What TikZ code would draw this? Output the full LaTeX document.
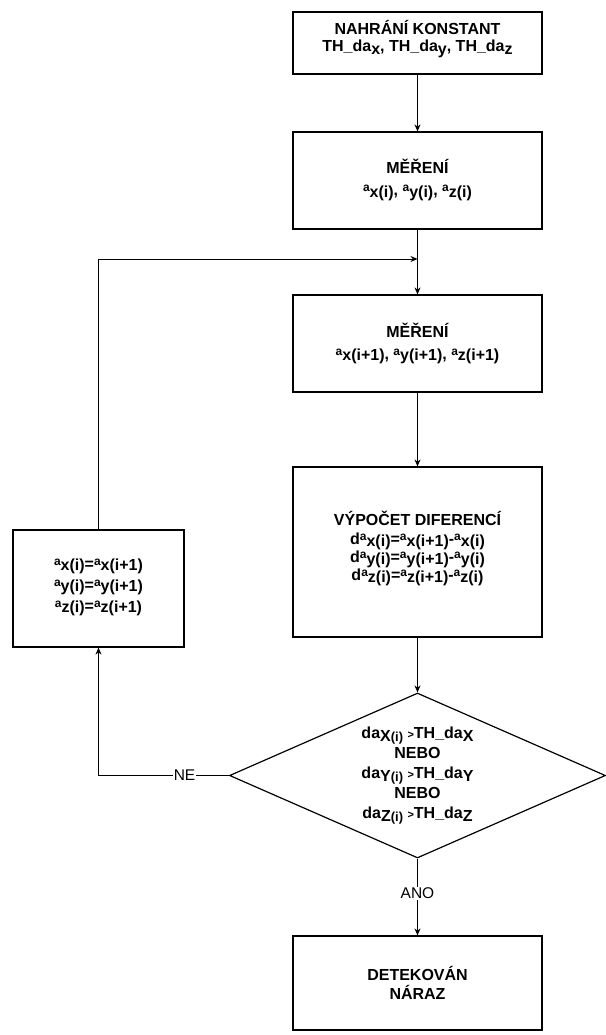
\documentclass[tikz,border=0pt]{standalone}
\usepackage{fontspec}
\setmainfont{Liberation Sans}
\usetikzlibrary{shapes.geometric,arrows.meta}
\newcommand\sa[2]{{\fontsize{12}{12}\selectfont\raisebox{4pt}{#1}}\raisebox{-1.5pt}{#2}}
\newcommand\dx[1]{da\raisebox{-2.5pt}{#1}}
\newcommand\ii{{\fontsize{13}{13}\selectfont(i)}}
\newcommand\gt{{\fontsize{11}{11}\selectfont>}}
\begin{document}
\begin{tikzpicture}[x=1pt,y=1pt,
  box/.style={draw=black,line width=1.2pt,minimum width=249pt,align=center,inner sep=0pt,font=\fontsize{16}{19}\selectfont\bfseries},
  arr/.style={-{Stealth[length=7pt,width=6pt]},line width=0.9pt},
  lbl/.style={fill=white,inner sep=1pt,font=\fontsize{15.5}{18}\selectfont}]
\useasboundingbox (0,0) rectangle (605,-1035);
\node[box,minimum height=62pt] (b1) at (417.5,-43) {NAHRÁNÍ KONSTANT\\[-2pt]TH\_da\raisebox{-2.5pt}{x}, TH\_da\raisebox{-2.5pt}{y}, TH\_da\raisebox{-2.5pt}{z}\\[-5pt]};
\node[box,minimum height=97pt] (b2) at (417.5,-180.5) {MĚŘENÍ\\[3pt]\sa{a}{x(i)}, \sa{a}{y(i)}, \sa{a}{z(i)}\\[-13pt]};
\node[box,minimum height=97pt] (b3) at (417.5,-343.5) {MĚŘENÍ\\[3pt]\sa{a}{x(i+1)}, \sa{a}{y(i+1)}, \sa{a}{z(i+1)}\\[-14pt]};
\node[box,minimum height=170pt] (b4) at (417.5,-552) {VÝPOČET DIFERENCÍ\\
d\sa{a}{x(i)}=\sa{a}{x(i+1)}-\sa{a}{x(i)}\\[-1pt]
d\sa{a}{y(i)}=\sa{a}{y(i+1)}-\sa{a}{y(i)}\\[-1pt]
d\sa{a}{z(i)}=\sa{a}{z(i+1)}-\sa{a}{z(i)}\\[-7pt]};
\node[box,minimum width=171pt,minimum height=117pt] (lb) at (98.5,-588.5) {\sa{a}{x(i)}=\sa{a}{x(i+1)}\\[2pt]\sa{a}{y(i)}=\sa{a}{y(i+1)}\\[2pt]\sa{a}{z(i)}=\sa{a}{z(i+1)}\\[-12pt]};
\node[draw=black,line width=1.2pt,shape=diamond,aspect=2.3,inner sep=0pt,minimum width=376pt,minimum height=165pt,align=center,font=\fontsize{16}{20}\selectfont\bfseries] (d) at (417.5,-775.5) {\dx{X\ii} \gt TH\_da\raisebox{-2.5pt}{X}\\NEBO\\\dx{Y\ii} \gt TH\_da\raisebox{-2.5pt}{Y}\\NEBO\\\dx{Z\ii} \gt TH\_da\raisebox{-2.5pt}{Z}};
\node[box,minimum height=94pt] (b5) at (417.5,-983) {DETEKOVÁN\\NÁRAZ};
\coordinate (j) at (b2.south |- 0,-259);
\coordinate (c) at (lb.south |- d.west);
\draw[arr] (b1) -- (b2);
\draw[arr] (b2) -- (b3);
\draw[arr] (b3) -- (b4);
\draw[arr] (b4) -- (d);
\draw[arr] (d) -- node[lbl,pos=0.45] (ano) {ANO} (b5);
\draw[arr] (d.west) -- node[lbl,pos=0.34] (ne) {NE} (c) -- (lb.south);
\draw[arr] (lb.north) |- (j);
\end{tikzpicture}
\end{document}
